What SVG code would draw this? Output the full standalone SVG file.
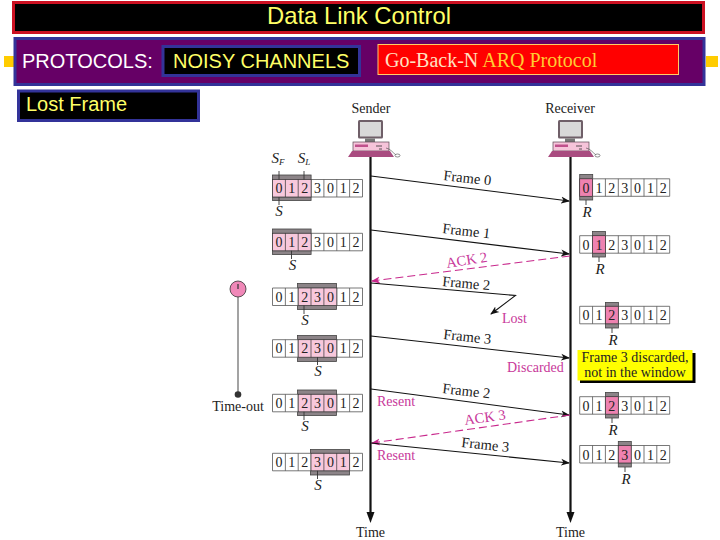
<svg xmlns="http://www.w3.org/2000/svg" width="720" height="540" viewBox="0 0 720 540">
<style>
.sans{font-family:"Liberation Sans",Arial,sans-serif}
.ser{font-family:"Liberation Serif","Times New Roman",serif}
.cell{fill:#fff;stroke:#555;stroke-width:.8}
.win{fill:#f8c8dc;stroke:#333;stroke-width:.7}
.cur{fill:#ee82b0;stroke:#333;stroke-width:.7}
.band{fill:#8c8488;stroke:#444;stroke-width:.8}
.dig{font-family:"Liberation Serif",serif;font-size:14px;fill:#222;text-anchor:middle}
.lab{font-family:"Liberation Serif",serif;font-size:14px;fill:#222}
.pk{font-family:"Liberation Serif",serif;font-size:14px;fill:#c8389a}
.big{font-size:14.500px}
.it{font-family:"Liberation Serif",serif;font-style:italic;font-size:15px;fill:#222;text-anchor:middle}
.tick{stroke:#333;stroke-width:.9}
.fr{stroke:#111;stroke-width:1.1;fill:none;marker-end:url(#ah)}
.ack{stroke:#c8288c;stroke-width:1.1;stroke-dasharray:8 4;fill:none;marker-end:url(#ap)}
.tl{stroke:#111;stroke-width:2.2;fill:none}
</style>
<defs>
<marker id="ah" markerWidth="10" markerHeight="8" refX="8" refY="4" orient="auto" markerUnits="userSpaceOnUse"><path d="M0 0.500L9 4L0 7.500L2.500 4Z" fill="#111"/></marker>
<marker id="ap" markerWidth="10" markerHeight="8" refX="8" refY="4" orient="auto" markerUnits="userSpaceOnUse"><path d="M0 0.500L9 4L0 7.500L2.500 4Z" fill="#c8288c"/></marker>
<g id="cells"><path class="cell" d="M0 0H90V17.500H0ZM12.860 0V17.500M25.700 0V17.500M38.600 0V17.500M51.400 0V17.500M64.300 0V17.500M77.100 0V17.500"/></g>
<g id="pc">
<rect x="-8" y="0" width="25" height="18.500" rx="1.500" fill="#6f5f68"/>
<rect x="-6" y="2" width="21" height="14.500" fill="#d8d8d8"/>
<rect x="-1" y="18.500" width="10" height="3.500" fill="#777"/>
<rect x="-13" y="22" width="36" height="9" fill="#f6c4da" stroke="#5a4650" stroke-width=".7"/>
<rect x="-11" y="24.500" width="13" height="2.500" fill="#c0508c"/>
<path d="M10 26H16M13 29H16" stroke="#333" stroke-width=".8"/>
<path d="M-14 31H24L28 37H-18Z" fill="#a94c80"/>
<path d="M20 28C25 29 27 33 30 35" stroke="#444" stroke-width=".6" fill="none"/>
<ellipse cx="31.500" cy="35.500" rx="2.500" ry="1.500" fill="#fff" stroke="#444" stroke-width=".6"/>
</g>
</defs>
<rect width="720" height="540" fill="#fff"/>
<g id="title"><rect x="13.500" y="2.500" width="690" height="30" fill="#000" stroke="#cc1122" stroke-width="3"/><text class="sans" x="359" y="24" font-size="23.800" fill="#ffff66" text-anchor="middle">Data Link Control</text></g>
<g id="bar">
<rect x="4" y="56" width="10" height="11" fill="#ffcc00"/><rect x="706" y="56" width="12" height="11" fill="#ffcc00"/>
<rect x="15" y="38.500" width="689" height="46" fill="#660066" stroke="#333399" stroke-width="3"/>
<text class="sans" x="22" y="67.500" font-size="20" fill="#fff">PROTOCOLS:</text>
</g>
<g id="noisy"><rect x="163" y="46.500" width="196.500" height="29" fill="#000" stroke="#333399" stroke-width="3"/><text class="sans" x="173" y="67.500" font-size="20" fill="#ffff66">NOISY CHANNELS</text></g>
<g id="gbn"><rect x="378" y="44.500" width="300.500" height="30" fill="#ff0000" stroke="#ffcc66"/><text class="ser" x="385" y="67" font-size="20" fill="#ffe0c0">Go-Back-N <tspan fill="#ffcc33">ARQ Protocol</tspan></text></g>
<g id="lost"><rect x="18.500" y="91" width="180" height="29.500" fill="#000" stroke="#333399" stroke-width="3"/><text class="sans" x="26" y="111" font-size="20" fill="#ffff66">Lost Frame</text></g>

<g id="sender"><text class="lab" x="371" y="113" text-anchor="middle">Sender</text><use href="#pc" x="366" y="120"/></g>
<g id="receiver"><text class="lab" x="570" y="113" text-anchor="middle">Receiver</text><use href="#pc" x="566" y="120"/></g>

<g id="connectors">
<path class="tl" d="M370.500 157V516"/><path d="M366.500 512H374.500L370.500 523Z" fill="#111"/>
<path class="tl" d="M570.500 157V516"/><path d="M566.500 512H574.500L570.500 523Z" fill="#111"/>
<path class="fr" d="M371 176L569 201"/>
<path class="fr" d="M371 230L569 254"/>
<path class="ack" d="M570 256L372 281"/>
<path class="fr" d="M371 283L515.500 295.500L491 314"/>
<path class="fr" d="M371 336L569 358"/>
<path class="fr" d="M371 389L569 415"/>
<path class="ack" d="M570 415L372 443"/>
<path class="fr" d="M371 443L569 463"/>
</g>
<g id="labels">
<text class="lab big" transform="translate(443 180) rotate(6.500)">Frame 0</text>
<text class="lab big" transform="translate(442 233) rotate(6.500)">Frame 1</text>
<text class="pk big" transform="translate(447 268) rotate(-9)">ACK 2</text>
<text class="lab big" transform="translate(442 286) rotate(5)">Frame 2</text>
<text class="pk" x="502" y="323">Lost</text>
<text class="lab big" transform="translate(443 339) rotate(6)">Frame 3</text>
<text class="pk" x="507" y="372">Discarded</text>
<text class="lab big" transform="translate(442 393) rotate(6.500)">Frame 2</text>
<text class="pk" x="377" y="406">Resent</text>
<text class="pk big" transform="translate(465 425) rotate(-8)">ACK 3</text>
<text class="lab big" transform="translate(461 447) rotate(6)">Frame 3</text>
<text class="pk" x="377" y="459.500">Resent</text>
<text class="lab" x="370.500" y="537" text-anchor="middle">Time</text>
<text class="lab" x="570.500" y="537" text-anchor="middle">Time</text>
</g>

<g id="timer">
<path d="M238 289V394" stroke="#666" stroke-width="1.200"/>
<circle cx="238" cy="289" r="8" fill="#f088b8" stroke="#333" stroke-width=".8"/>
<path d="M238 284V289" stroke="#333" stroke-width="1.200"/>
<circle cx="238" cy="394.500" r="3.300" fill="#333"/>
<text class="lab" x="238" y="411" text-anchor="middle">Time-out</text>
</g>

<g id="s1">
<rect class="band" x="272.500" y="175" width="38.600" height="25.500"/>
<use href="#cells" x="272.500" y="179.500"/>
<rect class="win" x="272.500" y="179.500" width="38.600" height="17.500"/>
<path d="M285.400 179.500V197M298.200 179.500V197" stroke="#333" stroke-width=".7"/>
<text class="dig" y="193" x="279 291.800 304.700 317.500 330.400 343.200 356.100">0123012</text>
<path class="tick" d="M279 171V179.500M304 171V179.500M279 197V205"/>
<text class="it" x="278" y="163">S<tspan font-size="9" dy="2">F</tspan></text><text class="it" x="304" y="163">S<tspan font-size="9" dy="2">L</tspan></text>
<text class="it" x="279" y="216">S</text>
</g>
<g id="s2">
<rect class="band" x="272.500" y="229" width="38.600" height="25.500"/>
<use href="#cells" x="272.500" y="233.300"/>
<rect class="win" x="272.500" y="233.300" width="38.600" height="17.500"/>
<path d="M285.400 233.300V250.800M298.200 233.300V250.800" stroke="#333" stroke-width=".7"/>
<text class="dig" y="247" x="279 291.800 304.700 317.500 330.400 343.200 356.100">0123012</text>
<path class="tick" d="M291.500 250.800V259"/><text class="it" x="292.500" y="270">S</text>
</g>
<g id="s3">
<rect class="band" x="297.500" y="283.500" width="39" height="26"/>
<use href="#cells" x="272.500" y="288"/>
<rect class="win" x="298.200" y="288" width="38.600" height="17.500"/>
<path d="M311 288V305.500M323.900 288V305.500" stroke="#333" stroke-width=".7"/>
<text class="dig" y="301.500" x="279 291.800 304.700 317.500 330.400 343.200 356.100">0123012</text>
<path class="tick" d="M304 305.500V314"/><text class="it" x="305" y="325">S</text>
</g>
<g id="s4">
<rect class="band" x="297.500" y="335.500" width="39" height="26"/>
<use href="#cells" x="272.500" y="339.700"/>
<rect class="win" x="298.200" y="339.700" width="38.600" height="17.500"/>
<path d="M311 339.700V357.200M323.900 339.700V357.200" stroke="#333" stroke-width=".7"/>
<text class="dig" y="353" x="279 291.800 304.700 317.500 330.400 343.200 356.100">0123012</text>
<path class="tick" d="M317.500 357.200V365"/><text class="it" x="318" y="376">S</text>
</g>
<g id="s5">
<rect class="band" x="297.500" y="390" width="39" height="25.500"/>
<use href="#cells" x="272.500" y="394.300"/>
<rect class="win" x="298.200" y="394.300" width="38.600" height="17.500"/>
<path d="M311 394.300V411.800M323.900 394.300V411.800" stroke="#333" stroke-width=".7"/>
<text class="dig" y="408" x="279 291.800 304.700 317.500 330.400 343.200 356.100">0123012</text>
<path class="tick" d="M304 411.800V420"/><text class="it" x="305" y="431">S</text>
</g>
<g id="s6">
<rect class="band" x="310.500" y="449.500" width="39" height="25.500"/>
<use href="#cells" x="272.500" y="453.300"/>
<rect class="win" x="311" y="453.300" width="38.600" height="17.500"/>
<path d="M323.900 453.300V470.800M336.700 453.300V470.800" stroke="#333" stroke-width=".7"/>
<text class="dig" y="467" x="279 291.800 304.700 317.500 330.400 343.200 356.100">0123012</text>
<path class="tick" d="M317.500 470.800V479"/><text class="it" x="318" y="490">S</text>
</g>

<g id="r1">
<rect class="band" x="579.700" y="174.500" width="13" height="25.500"/>
<use href="#cells" x="579.700" y="178.800"/>
<rect class="cur" x="579.700" y="178.800" width="12.900" height="17.500"/>
<text class="dig" y="192.500" x="586.100 599 611.800 624.700 637.500 650.400 663.200">0123012</text>
<path class="tick" d="M586 200V205"/><text class="it" x="587" y="217">R</text>
</g>
<g id="r2">
<rect class="band" x="592.600" y="231.500" width="13" height="25.500"/>
<use href="#cells" x="579.700" y="235.700"/>
<rect class="cur" x="592.600" y="235.700" width="12.900" height="17.500"/>
<text class="dig" y="249.500" x="586.100 599 611.800 624.700 637.500 650.400 663.200">0123012</text>
<path class="tick" d="M599 257V262"/><text class="it" x="600" y="274">R</text>
</g>
<g id="r3">
<rect class="band" x="605.400" y="302.500" width="13" height="25.500"/>
<use href="#cells" x="579.700" y="306.300"/>
<rect class="cur" x="605.400" y="306.300" width="12.900" height="17.500"/>
<text class="dig" y="320" x="586.100 599 611.800 624.700 637.500 650.400 663.200">0123012</text>
<path class="tick" d="M612 328V333"/><text class="it" x="613" y="345">R</text>
</g>
<g id="note">
<rect x="580" y="353" width="115.500" height="30" fill="#000"/>
<rect x="577.500" y="350" width="115" height="30.500" fill="#ffff00"/>
<text class="lab" x="635" y="362" text-anchor="middle">Frame 3 discarded,</text>
<text class="lab" x="635" y="377" text-anchor="middle">not in the window</text>
</g>
<g id="r4">
<rect class="band" x="605.400" y="392.500" width="13" height="25.500"/>
<use href="#cells" x="579.700" y="396.700"/>
<rect class="cur" x="605.400" y="396.700" width="12.900" height="17.500"/>
<text class="dig" y="410.500" x="586.100 599 611.800 624.700 637.500 650.400 663.200">0123012</text>
<path class="tick" d="M612 418V423"/><text class="it" x="613" y="435">R</text>
</g>
<g id="r5">
<rect class="band" x="618.300" y="441.500" width="13" height="25.500"/>
<use href="#cells" x="579.700" y="445.500"/>
<rect class="cur" x="618.300" y="445.500" width="12.900" height="17.500"/>
<text class="dig" y="459.500" x="586.100 599 611.800 624.700 637.500 650.400 663.200">0123012</text>
<path class="tick" d="M625 467V472"/><text class="it" x="626" y="484">R</text>
</g>
</svg>
